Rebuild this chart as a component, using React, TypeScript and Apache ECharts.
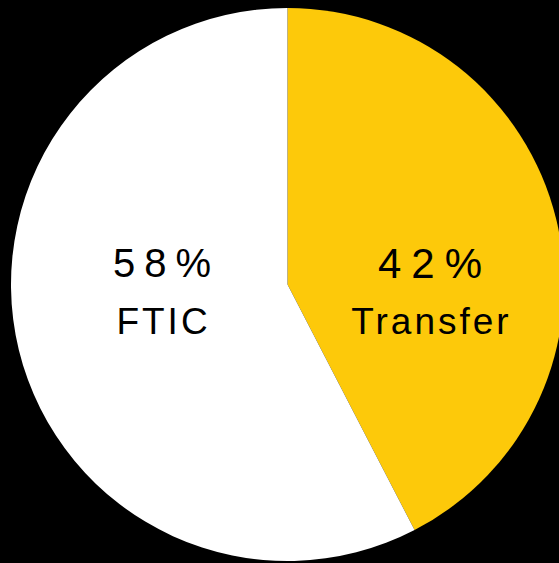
import React, { useEffect, useRef } from "react";
import * as echarts from "echarts";

const categories = ["Transfer", "FTIC"];
const values = [42.4, 57.6];
const colors = ["#FDC90A", "#FFFFFF"];

const FONT = "Liberation Sans, Arial, sans-serif";

export default function App() {
  const ref = useRef<HTMLDivElement>(null);
  useEffect(() => {
    document.body.style.margin = "0";
    document.body.style.background = "#000";
    const chart = echarts.init(ref.current!, null, { renderer: "svg" });
    const labelPos = [
      [430, 292],
      [162, 292],
    ];
    const pctSize = [42, 40];
    const pctSpacing = [10, 9];
    const nameSpacing = 3;

    chart.setOption({
      animation: false,
      backgroundColor: "#000000",
      series: [
        {
          type: "pie",
          center: [287.5, 284.5],
          radius: 276.5,
          startAngle: 90,
          clockwise: true,
          silent: true,
          data: categories.map((c, i) => ({
            name: c,
            value: values[i],
            itemStyle: { color: colors[i] },
            label: {
              rich: {
                p: {
                  fontFamily: FONT,
                  fontSize: pctSize[i],
                  color: "#000",
                  lineHeight: 58,
                  align: "center",
                },
              },
            },
          })),
          label: {
            show: true,
            position: "inside",
            formatter: (p: any) => `{p|${Math.round(p.percent)}%}\n{n|${p.name}}`,
            rich: {
              p: {
                fontFamily: FONT,
                fontSize: 40,
                color: "#000",
                lineHeight: 58,
                align: "center",
              },
              n: {
                fontFamily: FONT,
                fontSize: 37,
                color: "#000",
                lineHeight: 58,
                align: "center",
              },
            },
          },
          labelLine: { show: false },
          labelLayout: (params: any) => ({
            x: labelPos[params.dataIndex][0],
            y: labelPos[params.dataIndex][1],
            align: "center",
            verticalAlign: "middle",
          }),
        },
      ],
    });

    const applySpacing = () => {
      const root = ref.current;
      if (!root) return;
      root.querySelectorAll("text").forEach((t) => {
        const s = (t.textContent || "").trim();
        let sp = 0;
        if (s === "42%") sp = pctSpacing[0];
        else if (s === "58%") sp = pctSpacing[1];
        else if (categories.includes(s)) sp = nameSpacing;
        if (!sp) return;
        t.setAttribute("letter-spacing", String(sp));
        t.style.letterSpacing = sp + "px";
        const anchor = t.getAttribute("text-anchor") || "start";
        const n = s.length;
        let dx = 0;
        if (anchor === "middle") dx = sp / 2;
        else if (anchor === "start") dx = -((n - 1) * sp) / 2;
        else if (anchor === "end") dx = sp + ((n - 1) * sp) / 2;
        t.setAttribute("dx", String(dx));
      });
    };
    applySpacing();
    chart.on("finished", applySpacing);
    const timer = setTimeout(applySpacing, 50);
    return () => {
      clearTimeout(timer);
      chart.dispose();
    };
  }, []);
  return <div ref={ref} style={{ width: 559, height: 563, background: "#000" }} />;
}
